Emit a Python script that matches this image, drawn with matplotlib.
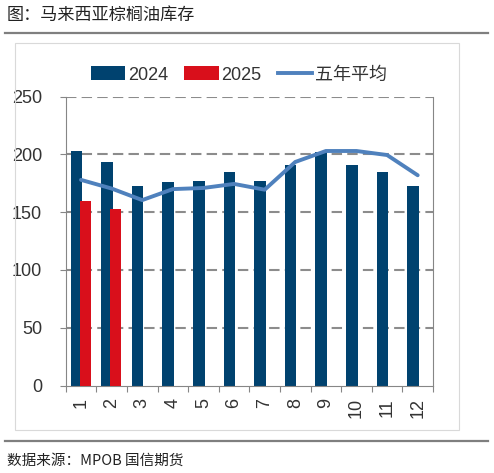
import matplotlib
matplotlib.use("Agg")
import matplotlib.pyplot as plt
from matplotlib import font_manager as fm
from matplotlib.patches import Patch, Rectangle
from matplotlib.lines import Line2D
import numpy as np

# ---- data ----
months = ['1', '2', '3', '4', '5', '6', '7', '8', '9', '10', '11', '12']
inv_2024 = [203, 193.5, 172.5, 176, 177, 184.5, 177, 191, 202, 191, 184.5, 172.5]
inv_2025 = [159.5, 152.5]
avg_5y = [178, 170.5, 160.5, 170, 171, 174.5, 169.5, 193.5, 203, 203, 199.5, 182]
y_ticks = [0, 50, 100, 150, 200, 250]
legend_labels = ['2024', '2025', '五年平均']
title_text = '图：马来西亚棕榈油库存'
source_text = '数据来源：MPOB 国信期货'


def has_font(name):
    try:
        fm.findfont(fm.FontProperties(family=name), fallback_to_default=False)
        return True
    except Exception:
        return False


if has_font('Liberation Sans Narrow'):
    num_font, num_size = 'Liberation Sans Narrow', 15
else:
    num_font, num_size = 'Liberation Sans', 13
cjk = 'Noto Sans CJK SC'

C_2024 = '#00426f'
C_2025 = '#d90f1b'
C_AVG = '#4f81bd'
C_AX = '#868686'

W, H = 494, 473
fig = plt.figure(figsize=(W / 100, H / 100), dpi=100)

# outer decorations
fig.add_artist(Line2D([5 / W, 488 / W], [1 - 33 / H, 1 - 33 / H], color='#7f7f7f', lw=1.6,
                      transform=fig.transFigure))
fig.add_artist(Line2D([5 / W, 488 / W], [1 - 440.5 / H, 1 - 440.5 / H], color='#7f7f7f', lw=1.6,
                      transform=fig.transFigure))
fig.add_artist(Rectangle((15 / W, 1 - 430 / H), (459 - 15) / W, (430 - 43) / H, fill=False,
                         edgecolor='#d9d9d9', lw=0.8, transform=fig.transFigure))
fig.text(7 / W, 1 - 15 / H, title_text, family=[cjk], fontsize=12.3, va='center', ha='left',
         color='#222222')
fig.text(7 / W, 1 - 461 / H, source_text, family=[cjk], fontsize=10.5, va='center', ha='left',
         color='#222222')

# axes
left, right, top, bottom = 65.7, 433, 96.7, 385.5
ax = fig.add_axes([left / W, 1 - bottom / H, (right - left) / W, (bottom - top) / H])
x = np.arange(1, len(months) + 1)
bw = 0.38
ax.bar(x - 0.15, inv_2024, width=bw, color=C_2024, zorder=2)
ax.bar(x[:len(inv_2025)] + 0.14, inv_2025, width=0.36, color=C_2025, zorder=3)
ax.plot(x, avg_5y, color=C_AVG, lw=2.8, solid_capstyle='round', solid_joinstyle='round', zorder=4)

ax.set_xlim(0.5, 12.5)
ax.set_ylim(0, 250)
for yv in y_ticks[1:]:
    ax.axhline(yv, color='#8c8c8c', lw=1.5, dashes=(5, 2.5), zorder=1)

ax.set_yticks(y_ticks)
ax.set_yticklabels([str(v) for v in y_ticks], family=num_font, fontsize=num_size, color='#333333')
ax.set_xticks(np.arange(0.5, 13.0, 1.0))
ax.set_xticklabels([])
ax.set_xticks(x, minor=True)
ax.set_xticklabels(months, minor=True, rotation=90, family=num_font, fontsize=num_size,
                   color='#333333', va='top')
ax.tick_params(axis='x', which='major', length=4, width=0.8, color=C_AX, direction='out')
ax.tick_params(axis='x', which='minor', length=0, pad=9)
ax.tick_params(axis='y', length=4, width=0.8, color=C_AX, pad=13)

for s in ['left', 'bottom', 'right']:
    ax.spines[s].set_color(C_AX)
    ax.spines[s].set_linewidth(0.8)
ax.spines['top'].set_visible(False)

handles = [Patch(facecolor=C_2024, edgecolor='none'),
           Patch(facecolor=C_2025, edgecolor='none'),
           Line2D([0], [0], color=C_AVG, lw=2.8)]
fig.legend(handles, legend_labels, loc='center', bbox_to_anchor=(239 / W, 1 - 75 / H), ncol=3,
           frameon=False, prop=fm.FontProperties(family=[num_font, cjk], size=num_size),
           handlelength=1.9, handleheight=0.8, handletextpad=0.15, columnspacing=0.9,
           labelcolor='#333333')

fig.savefig('out.png', dpi=100)
